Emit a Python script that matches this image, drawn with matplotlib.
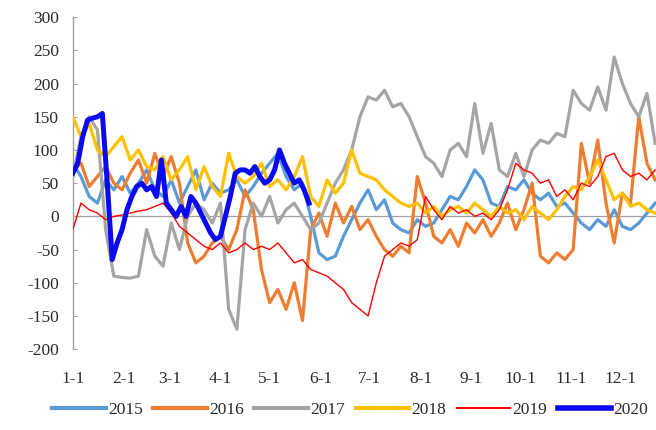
import numpy as np
import matplotlib
matplotlib.use("Agg")
import matplotlib.pyplot as plt

plt.rcParams['font.family'] = ['Liberation Serif', 'DejaVu Serif']
plt.rcParams['axes.unicode_minus'] = False

# Day-of-year grid for the full-year series (every 5 days) and for 2020 (every 3 days)
days = list(range(0, 360, 5))
days_2020 = list(range(0, 147, 3))

s2015 = [80, 60, 30, 20, 55, 40, 60, 35, 50, 70, 40, 30, 55, 20, 45, 70, 25, 50,
         35, 40, 55, 30, 45, 65, 80, 95, 60, 40, 50, 0, -55, -65, -60, -30, -5, 20,
         40, 10, 25, -10, -20, -25, -5, -15, -10, 10, 30, 25, 45, 70, 55, 20, 15, 45,
         40, 55, 35, 25, 35, 15, 20, 5, -10, -20, -5, -15, 10, -15, -20, -10, 5, 20]

s2016 = [70, 80, 45, 60, 75, 50, 40, 65, 85, 50, 95, 60, 90, 50, -40, -70, -60, -40,
         -30, -50, -20, 40, 10, -80, -130, -110, -140, -100, -157, -20, 5, -30, 20, -10, 15, -20,
         -5, -30, -50, -60, -45, -55, 60, 20, -30, -40, -20, -45, -10, -25, -5, -30, -10, 20,
         -20, 10, 50, -60, -70, -55, -65, -50, 110, 50, 115, 20, -40, 35, 20, 150, 80, 55]

s2017 = [60, 120, 150, 130, -20, -90, -92, -93, -90, -20, -60, -75, -10, -50, 0, 20, 10, -10,
         20, -140, -170, -20, 20, 0, 30, -10, 10, 20, 0, -20, -10, 20, 50, 70, 100, 150,
         180, 175, 190, 165, 170, 150, 120, 90, 80, 60, 100, 110, 90, 170, 95, 140, 70, 60,
         95, 60, 100, 115, 110, 125, 120, 190, 170, 160, 195, 160, 240, 200, 170, 150, 185, 110]

s2018 = [150, 120, 140, 100, 90, 105, 120, 85, 100, 75, 70, 90, 55, 70, 90, 40, 75, 45,
         30, 95, 60, 50, 60, 80, 45, 55, 40, 60, 90, 30, 15, 55, 35, 50, 100, 65,
         60, 55, 40, 30, 20, 15, 20, 5, 15, 0, 10, 15, 5, 20, 10, 0, 15, 5,
         10, -5, 15, 5, -5, 10, 30, 45, 40, 60, 85, 55, 25, 35, 15, 20, 10, 5]

s2019 = [-20, 20, 10, 5, -5, 0, 2, 5, 8, 10, 15, 20, 5, -15, -25, -35, -45, -50,
         -40, -55, -50, -40, -50, -45, -50, -40, -55, -70, -65, -80, -85, -90, -100, -110, -130, -140,
         -150, -100, -60, -50, -40, -45, -35, 30, 10, -5, 15, 5, 10, 0, 5, -5, 10, 40,
         80, 70, 65, 50, 55, 30, 40, 25, 50, 45, 60, 90, 95, 70, 60, 65, 55, 70]

s2020 = [65, 80, 120, 145, 148, 150, 155, 50, -65, -40, -20, 10, 30, 45, 50, 40, 45,
         30, 85, 20, 10, 0, 15, 0, 30, 20, 5, -10, -25, -35, -30, 0, 30, 65, 70,
         70, 65, 75, 60, 50, 55, 70, 100, 80, 65, 50, 55, 40, 20]

years = ['2015', '2016', '2017', '2018', '2019', '2020']
colors = ['#5B9BD5', '#ED7D31', '#A5A5A5', '#FFC000', '#FF0000', '#0A0AF0']
widths = [2.3, 2.3, 2.3, 2.3, 1.0, 3.6]

month_days = [0, 31, 59, 90, 120, 151, 181, 212, 243, 273, 304, 334]
month_labels = ['1-1', '2-1', '3-1', '4-1', '5-1', '6-1', '7-1', '8-1', '9-1', '10-1', '11-1', '12-1']

fig = plt.figure(figsize=(6.56, 4.30), dpi=100)
ax = fig.add_axes([0.111, 0.188, 0.889, 0.772])

ax.axhline(0, color='#A0A0A0', lw=0.9, zorder=1)

series = [s2015, s2016, s2017, s2018, s2019, s2020]
for i, (name, vals) in enumerate(zip(years, series)):
    x = days_2020 if name == '2020' else days
    ax.plot(x, vals, color=colors[i], lw=widths[i], label=name, zorder=2 + i,
            solid_joinstyle='round')

ax.set_xlim(0, 355.5)
ax.set_ylim(-200, 300)
ax.set_yticks(np.arange(-200, 301, 50))
ax.set_xticks(month_days)
ax.set_xticklabels(month_labels)

for side in ['top', 'right', 'bottom']:
    ax.spines[side].set_visible(False)
ax.spines['left'].set_color('#A0A0A0')
ax.spines['left'].set_linewidth(1.0)

ax.tick_params(axis='y', direction='in', length=3, color='#A0A0A0', labelsize=12.5, pad=10,
               labelcolor='#2b2b2b')
ax.tick_params(axis='x', length=0, labelsize=12.5, pad=16, labelcolor='#2b2b2b')

leg = fig.legend(loc='lower center', bbox_to_anchor=(0.534, 0.0), ncol=6, frameon=False,
                 fontsize=12.5, handlelength=3.1, handletextpad=0.12, columnspacing=0.6,
                 borderpad=0.2)
for line in leg.get_lines():
    line.set_linewidth(3.0)
leg.get_lines()[4].set_linewidth(1.5)
leg.get_lines()[5].set_linewidth(4.0)
for t in leg.get_texts():
    t.set_color('#2b2b2b')

fig.savefig('out.png', dpi=100)
